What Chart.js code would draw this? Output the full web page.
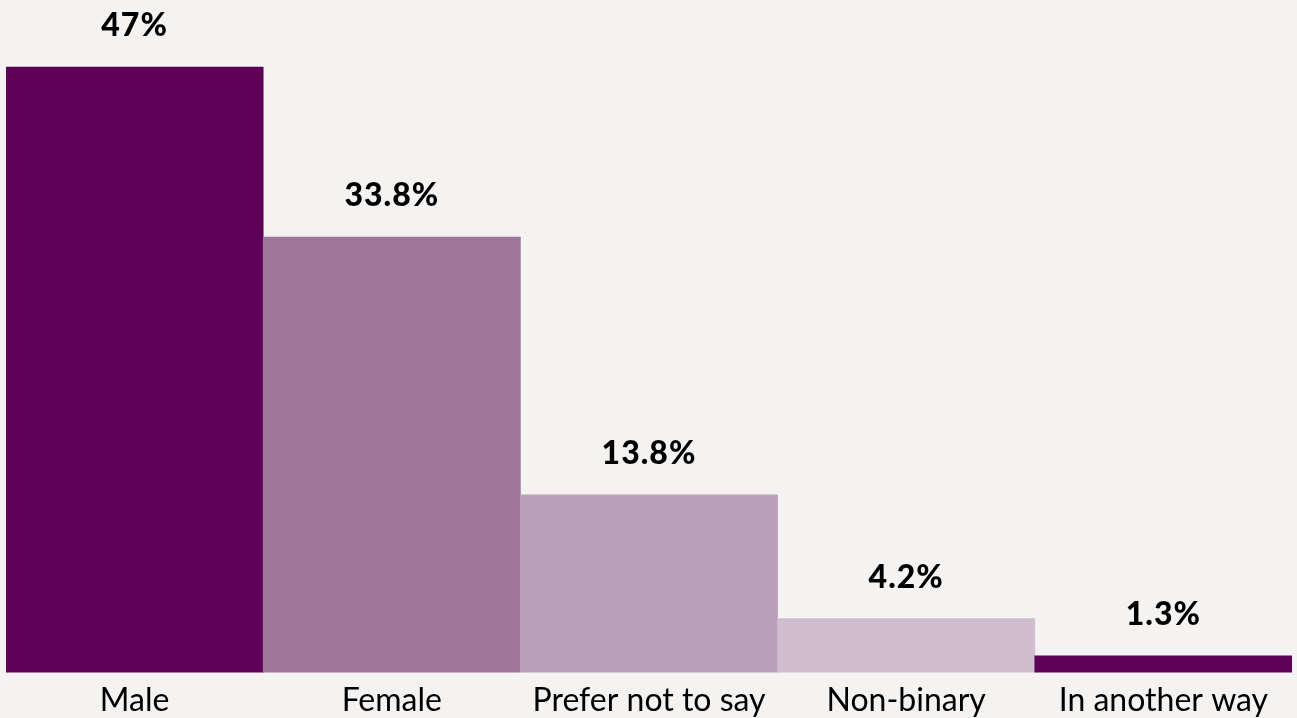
<!DOCTYPE html>
<html>
<head>
<meta charset="utf-8">
<script src="https://cdn.jsdelivr.net/npm/chart.js@4/dist/chart.umd.min.js"></script>
<style>
  html, body { margin: 0; padding: 0; background: #f4f3f2; }
  #wrap { width: 1297px; height: 718px; }
</style>
</head>
<body>
<div id="wrap"><canvas id="chart"></canvas></div>
<script>
// categorias y valores
var categories = ["Male", "Female", "Prefer not to say", "Non-binary", "In another way"];
var values = [47, 33.8, 13.8, 4.2, 1.3];
var valueLabels = ["47%", "33.8%", "13.8%", "4.2%", "1.3%"];
var barColors = ["#5f0058", "#9e7698", "#bba0ba", "#d1bdd0", "#5f0058"];

// etiquetas encima de cada barra
var topLabels = {
  id: "topLabels",
  afterDatasetsDraw: function (chart) {
    var ctx = chart.ctx;
    var meta = chart.getDatasetMeta(0);
    ctx.save();
    ctx.font = "900 32px Lato";
    ctx.letterSpacing = "1px";
    ctx.fillStyle = "#000000";
    ctx.textAlign = "center";
    ctx.textBaseline = "middle";
    meta.data.forEach(function (bar, i) {
      ctx.fillText(valueLabels[i], bar.x, bar.y - 41);
    });
    ctx.restore();
  }
};

new Chart(document.getElementById("chart"), {
  type: "bar",
  data: {
    labels: categories,
    datasets: [{
      data: values,
      backgroundColor: barColors,
      borderWidth: 0,
      categoryPercentage: 1.0,
      barPercentage: 1.0
    }]
  },
  options: {
    responsive: true,
    maintainAspectRatio: false,
    animation: false,
    layout: { padding: { left: 6, right: 5, top: 0, bottom: -3 } },
    plugins: {
      legend: { display: false },
      tooltip: { enabled: false }
    },
    scales: {
      x: {
        grid: { display: false },
        border: { display: false },
        ticks: {
          color: "#000000",
          font: { family: "Lato", size: 32 },
          padding: 1,
          maxRotation: 0,
          autoSkip: false
        }
      },
      y: {
        display: false,
        min: 0,
        max: 52.2
      }
    }
  },
  plugins: [topLabels]
});
</script>
</body>
</html>
